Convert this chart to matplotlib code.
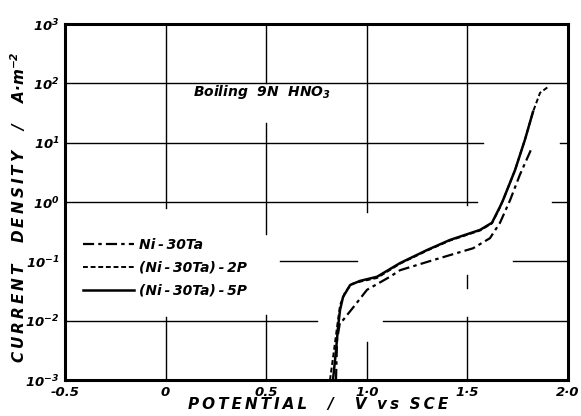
import matplotlib
matplotlib.use("Agg")
import matplotlib.pyplot as plt
import numpy as np

plt.rcParams['font.family'] = ['DejaVu Sans']
plt.rcParams['lines.scale_dashes'] = False

# ---- data (potential V vs SCE, log10 current density A m^-2) ----
ni30ta_E = [0.847, 0.852, 0.867, 0.882, 0.941, 1.001, 1.115, 1.165, 1.329, 1.528, 1.612, 1.662, 1.712, 1.761, 1.816]
ni30ta_logi = [-3.0, -2.33, -2.02, -1.99, -1.74, -1.48, -1.26, -1.15, -0.98, -0.78, -0.61, -0.35, 0.03, 0.46, 0.88]

p2_E = [0.817, 0.837, 0.852, 0.867, 0.892, 0.926, 0.97, 1.051, 1.165, 1.299, 1.413, 1.563, 1.622, 1.662, 1.677, 1.737, 1.786, 1.826, 1.861, 1.901]
p2_logi = [-3.0, -2.5, -2.11, -1.74, -1.52, -1.38, -1.34, -1.28, -1.04, -0.82, -0.65, -0.48, -0.36, -0.09, 0.03, 0.54, 1.05, 1.52, 1.84, 1.94]

p5_E = [0.832, 0.847, 0.857, 0.867, 0.882, 0.917, 0.966, 1.051, 1.165, 1.299, 1.413, 1.563, 1.622, 1.662, 1.677, 1.737, 1.786, 1.826]
p5_logi = [-3.0, -2.5, -2.11, -1.82, -1.60, -1.40, -1.33, -1.26, -1.03, -0.81, -0.64, -0.47, -0.35, -0.08, 0.03, 0.54, 1.05, 1.52]

series_labels = ["Ni\u2009-\u200930Ta", "(Ni\u2009-\u200930Ta)\u2009-\u20092P", "(Ni\u2009-\u200930Ta)\u2009-\u20095P"]

x_ticks = [-0.5, 0.0, 0.5, 1.0, 1.5, 2.0]
x_ticklabels = ["-0.5", "0", "0.5", "1\u00b70", "1\u00b75", "2\u00b70"]
y_exps = [-3, -2, -1, 0, 1, 2, 3]

# grid segments (with the gaps of the original drawing)
h_grid = [(2, -0.5, 2.0), (1, -0.5, 1.578), (1, 1.96, 2.0), (0, -0.5, 1.548), (0, 1.92, 2.0),
          (-1, 0.569, 0.951), (-1, 1.727, 2.0), (-2, -0.5, 0.752), (-2, 1.08, 2.0)]
v_grid = [(0.0, -0.10, 3), (0.0, -3, -1.94),
          (0.5, 2.0, 3), (0.5, -0.54, 1.33), (0.5, -3, -1.9),
          (1.0, -0.17, 3), (1.0, -3, -2.36),
          (1.5, -0.05, 3), (1.5, -1.45, -1.23), (1.5, -3, -1.94)]

fig = plt.figure(figsize=(5.81, 4.16), dpi=100)
ax = fig.add_axes([65/581, 1-380/416, 503/581, 356/416])
ax.set_yscale('log')
ax.set_xlim(-0.5, 2.0)
ax.set_ylim(1e-3, 1e3)

for y, x0, x1 in h_grid:
    ax.plot([x0, x1], [10.0**y, 10.0**y], color='black', lw=1.0, zorder=1)
for x, y0, y1 in v_grid:
    ax.plot([x, x], [10.0**y0, 10.0**y1], color='black', lw=1.0, zorder=1)

dashdot = (0, (8, 3, 2.5, 3))
dashed = (0, (3.5, 2))
l1, = ax.plot(ni30ta_E, 10.0**np.array(ni30ta_logi), color='black', lw=1.6, linestyle=dashdot, zorder=3)
l2, = ax.plot(p2_E, 10.0**np.array(p2_logi), color='black', lw=1.4, linestyle=dashed, zorder=3)
l3, = ax.plot(p5_E, 10.0**np.array(p5_logi), color='black', lw=1.8, linestyle='-', zorder=4)

ax.set_xticks(x_ticks)
ax.set_xticklabels(x_ticklabels)
ax.set_yticks([10.0**e for e in y_exps])
ax.set_yticklabels([r"$\mathregular{10^{%d}}$" % e for e in y_exps])
ax.minorticks_off()
ax.tick_params(axis='both', length=0, labelsize=9.5)
ax.tick_params(axis='x', pad=4)
ax.tick_params(axis='y', pad=4)
for lab in ax.get_xticklabels() + ax.get_yticklabels():
    lab.set_fontstyle('oblique')
    lab.set_fontweight('bold')

for s in ax.spines.values():
    s.set_linewidth(2.2)
    s.set_color('black')

leg = ax.legend([l1, l2, l3], series_labels, loc='upper left', bbox_to_anchor=(0.036, 0.40),
                frameon=False, handlelength=3.7, handletextpad=0.3, labelspacing=0.65,
                borderpad=0, borderaxespad=0,
                prop={'size': 10, 'style': 'oblique', 'weight': 'bold'})

ax.text(0.255, 0.81, "Boiling  9N  HNO$_\\mathregular{3}$", transform=ax.transAxes,
        fontsize=10, fontstyle='oblique', fontweight='bold', ha='left', va='center')

ts = "\u2009"
xlab = ts.join("POTENTIAL") + "    /    " + ts.join("V") + "  " + ts.join("vs") + "  " + ts.join("SCE")
ylab = ts.join("CURRENT") + "    " + ts.join("DENSITY") + "    /    A\u00b7m$^\\mathregular{-2}$"
fig.text(318/581, 1-405/416, xlab, ha='center', va='center',
         fontsize=11, fontstyle='oblique', fontweight='bold')
fig.text(18/581, 1-207/416, ylab, ha='center', va='center',
         rotation=90, fontsize=11, fontstyle='oblique', fontweight='bold')

fig.savefig("out.png", dpi=100)
